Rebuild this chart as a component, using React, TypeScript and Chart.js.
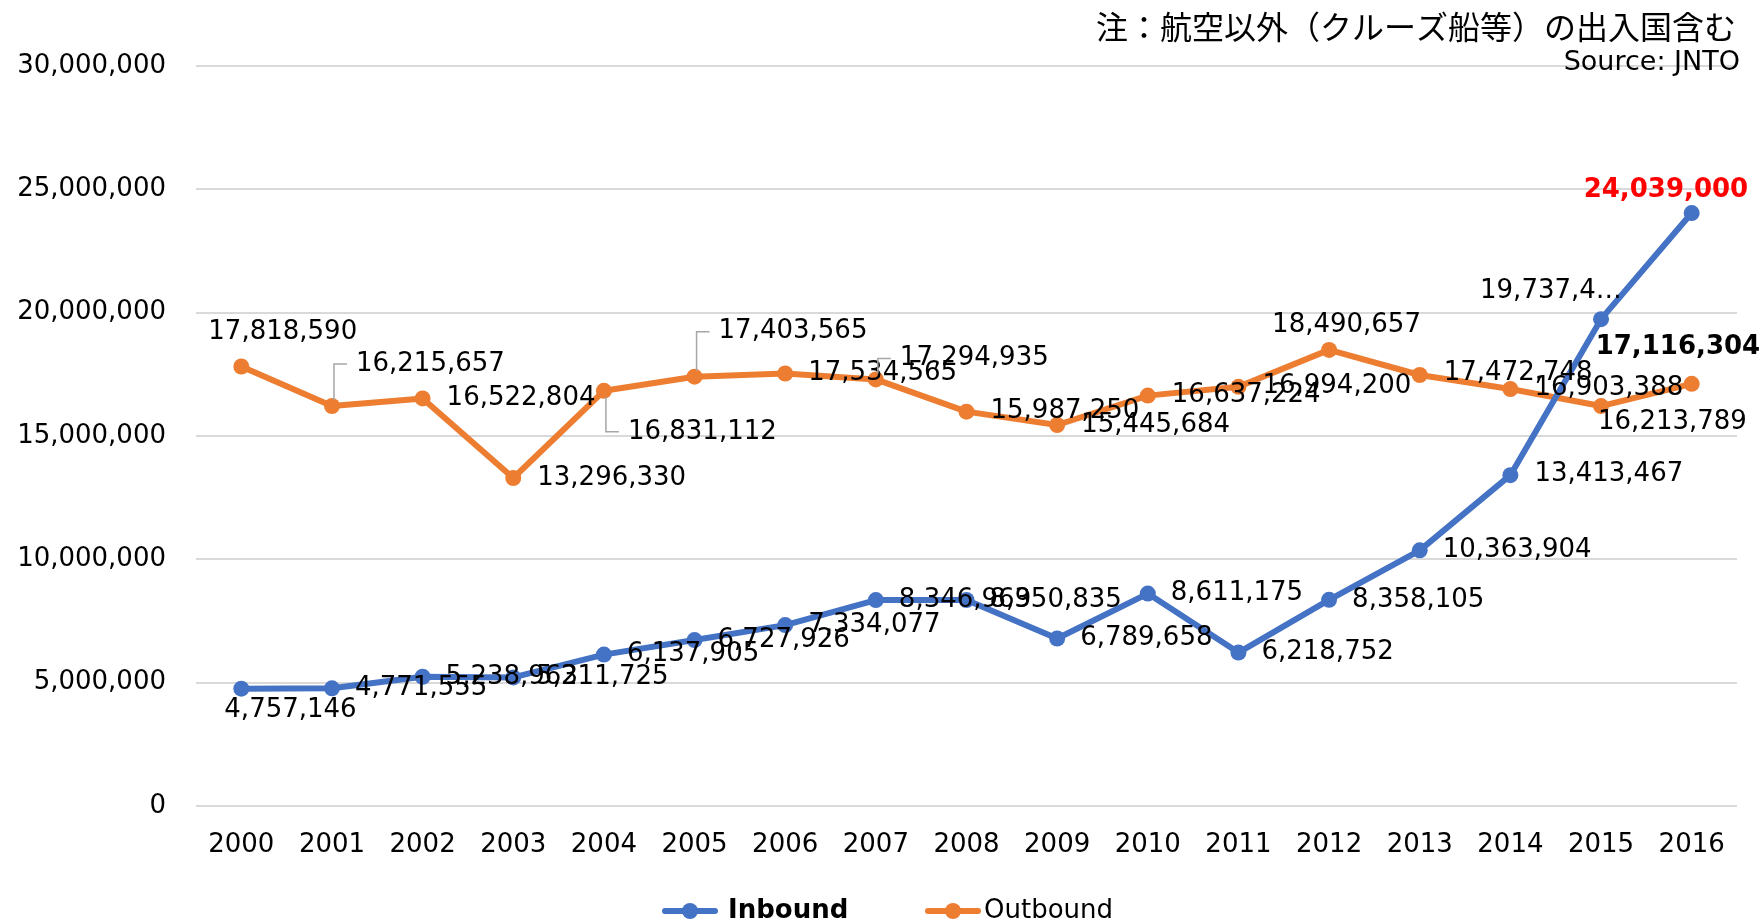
import React, { useEffect, useRef } from 'react';
import { Chart, registerables } from 'chart.js';

Chart.register(...registerables);

// ---------- data ----------
const years = ['2000', '2001', '2002', '2003', '2004', '2005', '2006', '2007', '2008', '2009', '2010', '2011', '2012', '2013', '2014', '2015', '2016'];
const inbound = [4757146, 4771555, 5238963, 5211725, 6137905, 6727926, 7334077, 8346969, 8350835, 6789658, 8611175, 6218752, 8358105, 10363904, 13413467, 19737409, 24039000];
const outbound = [17818590, 16215657, 16522804, 13296330, 16831112, 17403565, 17534565, 17294935, 15987250, 15445684, 16637224, 16994200, 18490657, 17472748, 16903388, 16213789, 17116304];
const seriesNames = ['Inbound', 'Outbound'];
const yMin = 0;
const yMax = 30000000;
const yStep = 5000000;
const noteText = '注：航空以外（クルーズ船等）の出入国含む';
const sourceText = 'Source: JNTO';

// ---------- styling ----------
const inboundColor = '#4472C4';
const outboundColor = '#ED7D31';
const FONT = 'DejaVu Sans';

// label placement relative to each point (px), text anchored left-middle
const inboundLabelOffsets = [
  [-17, 22], [23, 0], [23, 0], [23, 0], [23, 0], [23, 0], [23, 0], [23, 0], [23, 0],
  [23, 0], [23, 0], [23, 0], [23, 0], [23, 0], [24, -1], [-121, -28], [-108, -23],
];
const outboundLabelOffsets = [
  [-33, -34], [24, -42], [24, 0], [24, 0], [24, 41], [24, -45], [23, 0], [24, -21], [24, 0],
  [24, 0], [24, 0], [24, -1], [-57, -25], [24, -2], [24, -1], [-3, 16], [-96, -37],
];
const outboundLeaders = [false, true, false, false, true, true, false, true, false, false, false, false, false, false, false, false, false];
const inboundTruncate = [false, false, false, false, false, false, false, false, false, false, false, false, false, false, false, true, false];

const fmt = (v: number) => v.toLocaleString('en-US');

const labelPlugin = {
  id: 'pointLabels',
  afterDatasetsDraw(chart: any) {
    const ctx = chart.ctx;
    const cfgs = [
      { offsets: inboundLabelOffsets, leaders: [] as boolean[], trunc: inboundTruncate },
      { offsets: outboundLabelOffsets, leaders: outboundLeaders, trunc: [] as boolean[] },
    ];
    const last = years.length - 1;
    chart.data.datasets.forEach((ds: any, di: number) => {
      const meta = chart.getDatasetMeta(di);
      const cfg = cfgs[di];
      meta.data.forEach((pt: any, i: number) => {
        const [dx, dy] = cfg.offsets[i];
        const x = pt.x + dx;
        const y = pt.y + dy;
        let text = fmt(ds.data[i]);
        if (cfg.trunc[i]) text = text.slice(0, 8) + '…';
        ctx.save();
        if (cfg.leaders[i]) {
          ctx.strokeStyle = '#A6A6A6';
          ctx.lineWidth = 1.5;
          ctx.beginPath();
          const sx = pt.x + 2;
          ctx.moveTo(sx, pt.y + (dy < 0 ? -6 : 6));
          ctx.lineTo(sx, y);
          ctx.lineTo(x - 9, y);
          ctx.stroke();
        }
        let bold = false;
        let color = '#000000';
        if (i === last) {
          bold = true;
          if (di === 0) color = '#FF0000';
        }
        ctx.font = `${bold ? 'bold ' : ''}26px "${FONT}"`;
        ctx.fillStyle = color;
        ctx.textAlign = 'left';
        ctx.textBaseline = 'middle';
        ctx.fillText(text, x, y);
        ctx.restore();
      });
    });
  },
};

const decorPlugin = {
  id: 'decor',
  afterDraw(chart: any) {
    const ctx = chart.ctx;
    ctx.save();
    // notes
    ctx.fillStyle = '#000000';
    ctx.textAlign = 'right';
    ctx.textBaseline = 'middle';
    ctx.font = '32px "Noto Sans CJK JP"';
    ctx.fillText(noteText, 1736, 27);
    ctx.font = `27px "${FONT}"`;
    ctx.fillText(sourceText, 1740, 63);

    // legend
    const items = [
      { name: seriesNames[0], color: inboundColor, bold: true, start: 662, textGap: 10 },
      { name: seriesNames[1], color: outboundColor, bold: false, start: 925, textGap: 3 },
    ];
    const lineLen = 56;
    const y = 911;
    items.forEach((it) => {
      const x = it.start;
      ctx.strokeStyle = it.color;
      ctx.lineWidth = 6;
      ctx.lineCap = 'round';
      ctx.beginPath();
      ctx.moveTo(x + 3, y);
      ctx.lineTo(x + lineLen - 3, y);
      ctx.stroke();
      ctx.fillStyle = it.color;
      ctx.beginPath();
      ctx.arc(x + lineLen / 2, y, 8, 0, Math.PI * 2);
      ctx.fill();
      ctx.fillStyle = '#000000';
      ctx.textAlign = 'left';
      ctx.textBaseline = 'middle';
      ctx.font = `${it.bold ? 'bold ' : ''}26px "${FONT}"`;
      ctx.fillText(it.name, x + lineLen + it.textGap, y);
    });
    ctx.restore();
  },
};

export default function App() {
  const ref = useRef<HTMLCanvasElement | null>(null);
  useEffect(() => {
    document.body.style.margin = '0';
    const canvas = ref.current!;
    const chart = new Chart(canvas, {
      type: 'line',
      data: {
        labels: years,
        datasets: [
          {
            label: seriesNames[0],
            data: inbound,
            borderColor: inboundColor,
            backgroundColor: inboundColor,
            borderWidth: 6,
            pointRadius: 8,
            pointBorderWidth: 0,
            pointBackgroundColor: inboundColor,
            tension: 0,
            borderJoinStyle: 'round',
            borderCapStyle: 'round',
          },
          {
            label: seriesNames[1],
            data: outbound,
            borderColor: outboundColor,
            backgroundColor: outboundColor,
            borderWidth: 6,
            pointRadius: 8,
            pointBorderWidth: 0,
            pointBackgroundColor: outboundColor,
            tension: 0,
            borderJoinStyle: 'round',
            borderCapStyle: 'round',
          },
        ],
      },
      options: {
        responsive: false,
        animation: false,
        layout: { padding: { top: 66, right: 23, left: 0, bottom: 0 } },
        plugins: {
          legend: { display: false },
          tooltip: { enabled: false },
          title: { display: false },
        },
        scales: {
          x: {
            type: 'category',
            offset: true,
            grid: { display: false, drawTicks: false },
            border: { display: false },
            ticks: {
              color: '#000000',
              font: { family: FONT, size: 26 },
              padding: 24,
              maxRotation: 0,
              autoSkip: false,
            },
            afterFit: (s: any) => {
              s.height = 118;
            },
          },
          y: {
            min: yMin,
            max: yMax,
            grid: { color: '#D9D9D9', lineWidth: 2, drawTicks: false },
            border: { display: false },
            ticks: {
              stepSize: yStep,
              color: '#000000',
              font: { family: FONT, size: 26 },
              padding: 30,
              callback: (v: any) => fmt(Number(v)),
            },
            afterFit: (s: any) => {
              s.width = 196;
            },
          },
        },
      },
      plugins: [labelPlugin, decorPlugin],
    });
    return () => chart.destroy();
  }, []);
  return (
    <div style={{ width: 1760, height: 924 }}>
      <canvas ref={ref} width={1760} height={924} style={{ display: 'block' }} />
    </div>
  );
}
